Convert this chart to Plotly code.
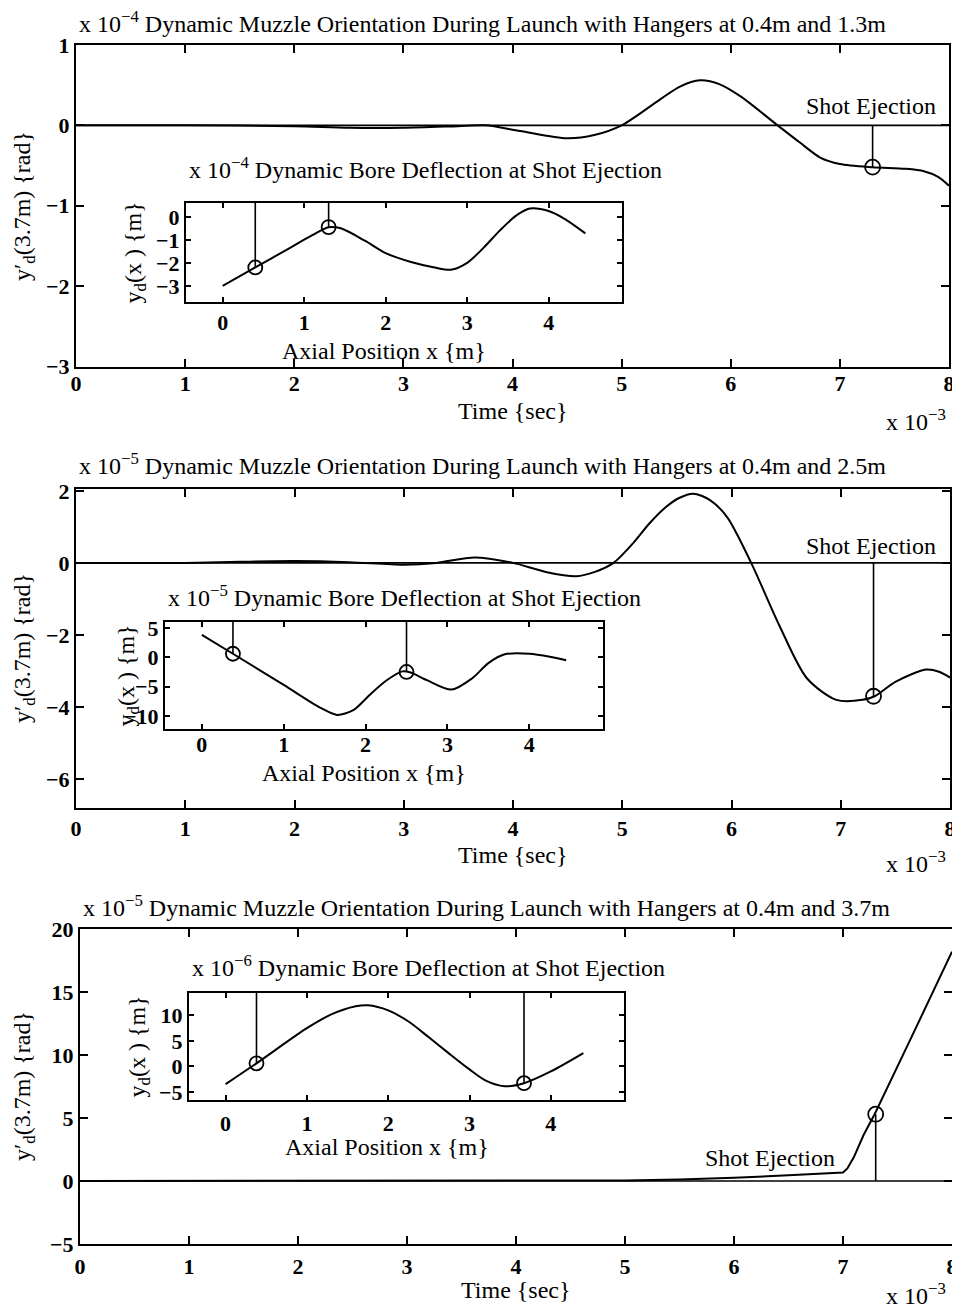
import plotly.graph_objects as go

# the page body keeps an 8px margin; the figure fills the rest of the 960x1310 window
OFF = 8
W, H = 960 - OFF, 1310 - OFF
FONT = "Liberation Serif"

# ---------------- data ----------------
# Panel 1: hangers at 0.4 m and 1.3 m  (t in 1e-3 s, y in 1e-4 rad)
t1 = [0, 1, 2, 2.5, 3, 3.5, 3.75, 4.07, 4.5, 4.75, 5.0, 5.35, 5.53, 5.72, 5.9, 6.09, 6.43, 6.63, 6.82, 7.0, 7.3, 7.6, 7.77, 7.9, 8.0]
y1 = [0, 0, -0.01, -0.03, -0.03, -0.01, 0, -0.07, -0.16, -0.12, 0, 0.32, 0.48, 0.56, 0.51, 0.36, 0, -0.21, -0.4, -0.48, -0.52, -0.54, -0.57, -0.64, -0.75]
shot1 = [7.3, -0.52]
# inset 1 (x in m, y in 1e-4 m)
ix1 = [0, 0.4, 0.8, 1.1, 1.3, 1.45, 1.75, 2.0, 2.3, 2.6, 2.8, 3.0, 3.2, 3.4, 3.6, 3.77, 4.0, 4.2, 4.45]
iy1 = [-3, -2.2, -1.4, -0.8, -0.45, -0.5, -1.05, -1.58, -1.95, -2.2, -2.3, -2.0, -1.35, -0.6, 0.05, 0.36, 0.25, -0.1, -0.72]
hang1_x = [0.4, 1.3]
hang1_y = [-2.2, -0.45]

# Panel 2: hangers at 0.4 m and 2.5 m  (y in 1e-5 rad)
t2 = [0, 1, 1.5, 2, 2.5, 3, 3.3, 3.65, 4.0, 4.3, 4.58, 4.75, 4.92, 5.1, 5.25, 5.4, 5.52, 5.65, 5.8, 5.96, 6.18, 6.44, 6.69, 6.96, 7.2, 7.31, 7.5, 7.78, 7.9, 8.0]
y2 = [0, 0, 0.03, 0.05, 0.02, -0.05, 0, 0.15, 0, -0.25, -0.37, -0.25, 0, 0.55, 1.1, 1.55, 1.8, 1.92, 1.75, 1.27, 0, -1.75, -3.2, -3.8, -3.8, -3.7, -3.3, -2.96, -3.02, -3.18]
shot2 = [7.3, -3.7]
ix2 = [0, 0.38, 1.0, 1.45, 1.65, 1.85, 2.05, 2.25, 2.45, 2.55, 2.75, 3.05, 3.3, 3.5, 3.7, 4.0, 4.25, 4.45]
iy2 = [3.8, 0.6, -4.7, -8.6, -9.8, -9.0, -6.4, -4.0, -2.4, -2.6, -3.9, -5.5, -3.6, -1.0, 0.5, 0.6, 0.1, -0.5]
hang2_x = [0.38, 2.5]
hang2_y = [0.6, -2.5]

# Panel 3: hangers at 0.4 m and 3.7 m  (y in 1e-5 rad)
t3 = [0, 1, 2, 3, 4, 4.5, 5, 5.5, 6, 6.5, 7.0, 7.04, 7.1, 7.19, 7.29, 7.6, 8.0]
y3 = [0, 0, 0, 0, 0, 0.01, 0.04, 0.12, 0.25, 0.45, 0.67, 1.0, 1.9, 3.67, 5.3, 10.9, 18.2]
shot3 = [7.3, 5.3]
ix3 = [0, 0.38, 1.0, 1.3, 1.6, 1.75, 2.0, 2.25, 2.5, 2.75, 3.0, 3.2, 3.43, 3.67, 4.0, 4.4]
iy3 = [-3.5, 0.6, 7.5, 10.2, 11.8, 12.0, 11.0, 8.8, 5.7, 2.5, -0.6, -2.8, -3.9, -3.3, -1.0, 2.6]
hang3_x = [0.38, 3.67]
hang3_y = [0.6, -3.3]

main_titles = [
    "x 10<sup>−4</sup> Dynamic Muzzle Orientation During Launch with Hangers at 0.4m and 1.3m",
    "x 10<sup>−5</sup> Dynamic Muzzle Orientation During Launch with Hangers at 0.4m and 2.5m",
    "x 10<sup>−5</sup> Dynamic Muzzle Orientation During Launch with Hangers at 0.4m and 3.7m",
]
inset_titles = [
    "x 10<sup>−4</sup> Dynamic Bore Deflection at Shot Ejection",
    "x 10<sup>−5</sup> Dynamic Bore Deflection at Shot Ejection",
    "x 10<sup>−6</sup> Dynamic Bore Deflection at Shot Ejection",
]
main_yticks = [[-3, -2, -1, 0, 1], [-6, -4, -2, 0, 2], [-5, 0, 5, 10, 15, 20]]
inset_yticks = [[-3, -2, -1, 0], [-10, -5, 0, 5], [-5, 0, 5, 10]]
time_ticks = [0, 1, 2, 3, 4, 5, 6, 7, 8]
pos_ticks = [0, 1, 2, 3, 4]

# ---------------- layout geometry (window pixels) ----------------
main_box = [(76, 949, 45, 366.5), (76, 950, 489, 808), (80, 952, 929, 1244)]
main_yr = [[-3, 1], [-6.8, 2.05], [-5, 20]]
main_xstand = [-4, 0, 2]
inset_box = [(186, 622, 203, 302), (165, 603, 622, 729), (189, 624, 993, 1100)]
inset_yr = [[-3.7, 0.6], [-12.2, 6.0], [-6.6, 14.4]]
inset_xstand = [0, -5, 3]


def fx(p):
    return (p - OFF) / W


def fy(p):
    return 1 - (p - OFF) / H


fig = go.Figure()
BLACK = "black"
TXT = 24
TICK = dict(family=FONT, size=22, color=BLACK, weight="bold")

mains = [(t1, y1, shot1), (t2, y2, shot2), (t3, y3, shot3)]
insets = [(ix1, iy1, hang1_x, hang1_y), (ix2, iy2, hang2_x, hang2_y), (ix3, iy3, hang3_x, hang3_y)]

layout = {}
for i in range(3):
    mx, my = f"x{2*i+1}", f"y{2*i+1}"
    ix, iy = f"x{2*i+2}", f"y{2*i+2}"
    t, y, shot = mains[i]
    shape = "linear" if i == 2 else "spline"
    fig.add_trace(go.Scatter(x=[time_ticks[0], time_ticks[-1]], y=[0, 0], mode="lines",
                             line=dict(color=BLACK, width=1.6), xaxis=mx, yaxis=my, showlegend=False))
    fig.add_trace(go.Scatter(x=t, y=y, mode="lines", line=dict(color=BLACK, width=2, shape=shape, smoothing=0.8),
                             xaxis=mx, yaxis=my, showlegend=False))
    fig.add_trace(go.Scatter(x=[shot[0], shot[0]], y=[0, shot[1]], mode="lines",
                             line=dict(color=BLACK, width=1.6), xaxis=mx, yaxis=my, showlegend=False))
    fig.add_trace(go.Scatter(x=[shot[0]], y=[shot[1]], mode="markers",
                             marker=dict(symbol="circle-open", size=15, color=BLACK, line=dict(width=1.8)),
                             xaxis=mx, yaxis=my, showlegend=False))
    xs, ys, hx, hy = insets[i]
    fig.add_trace(go.Scatter(x=xs, y=ys, mode="lines", line=dict(color=BLACK, width=2, shape="spline", smoothing=0.8),
                             xaxis=ix, yaxis=iy, showlegend=False))
    top = inset_yr[i][1]
    for k in range(len(hx)):
        fig.add_trace(go.Scatter(x=[hx[k], hx[k]], y=[hy[k], top], mode="lines",
                                 line=dict(color=BLACK, width=1.6), xaxis=ix, yaxis=iy, showlegend=False))
    fig.add_trace(go.Scatter(x=hx, y=hy, mode="markers",
                             marker=dict(symbol="circle-open", size=14, color=BLACK, line=dict(width=1.8)),
                             xaxis=ix, yaxis=iy, showlegend=False))

    L, R, T, B = main_box[i]
    axcommon = dict(showline=True, linecolor=BLACK, linewidth=2, mirror="ticks", ticks="inside",
                    tickcolor=BLACK, tickwidth=1.6, showgrid=False, zeroline=False, tickfont=TICK,
                    automargin=False)
    layout[f"xaxis{2*i+1}"] = dict(axcommon, domain=[fx(L), fx(R)], range=[0, 8], tickvals=time_ticks,
                                    ticklen=8, anchor=my, ticklabelstandoff=main_xstand[i])
    layout[f"yaxis{2*i+1}"] = dict(axcommon, domain=[fy(B), fy(T)], range=main_yr[i], tickvals=main_yticks[i],
                                    ticklen=8, anchor=mx)
    L2, R2, T2, B2 = inset_box[i]
    layout[f"xaxis{2*i+2}"] = dict(axcommon, domain=[fx(L2), fx(R2)], range=[-0.45, 4.9], tickvals=pos_ticks,
                                    ticklen=5, anchor=iy, ticklabelstandoff=inset_xstand[i])
    layout[f"yaxis{2*i+2}"] = dict(axcommon, domain=[fy(B2), fy(T2)], range=inset_yr[i], tickvals=inset_yticks[i],
                                    ticklen=5, anchor=ix)

ann = []


def A(text, x, y, xa="left", ya="middle", size=TXT, angle=0):
    ann.append(dict(text=text, x=fx(x), y=fy(y), xref="paper", yref="paper", xanchor=xa, yanchor=ya,
                    showarrow=False, textangle=angle, font=dict(family=FONT, size=size, color=BLACK)))


title_y = [22, 464, 906]
xlabel_y = [411, 855, 1290]
exp_y = [420, 862, 1294]
ylab_y = [206, 648, 1086]
shot_text = [(938, 106), (938, 546), (837, 1158)]
ins_title_y = [168, 596, 966]
ins_xlab_y = [351, 773, 1147]
ins_ylab_x = [134, 127, 138]

for i in range(3):
    L, R, T, B = main_box[i]
    A(main_titles[i], L + 1, title_y[i])
    A("Time {sec}", (L + R) / 2, xlabel_y[i], xa="center")
    A("x 10<sup>−3</sup>", 948, exp_y[i], xa="right")
    A("y′<sub>d</sub>(3.7m) {rad}", 24, ylab_y[i], xa="center", angle=-90)
    A("Shot Ejection", shot_text[i][0], shot_text[i][1], xa="right")
    L2, R2, T2, B2 = inset_box[i]
    A(inset_titles[i], L2 + 1, ins_title_y[i])
    A("Axial Position x {m}", (L2 + R2) / 2 - 20, ins_xlab_y[i], xa="center")
    A("y<sub>d</sub>(x ) {m}", ins_ylab_x[i], (T2 + B2) / 2, xa="center", angle=-90)

fig.update_layout(
    width=W, height=H, margin=dict(l=0, r=0, t=0, b=0, autoexpand=False),
    paper_bgcolor="white", plot_bgcolor="white",
    showlegend=False, annotations=ann, **layout,
)

fig.write_html("out.html")
